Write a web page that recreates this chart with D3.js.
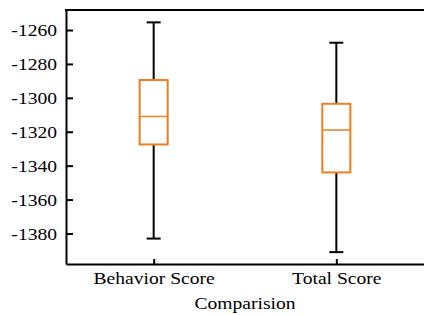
<!DOCTYPE html>
<html>
<head>
<meta charset="utf-8">
<script src="https://cdn.jsdelivr.net/npm/d3@7"></script>
<style>
  body { margin: 0; background: #fff; }
</style>
</head>
<body>
<script>
var categories = ["Behavior Score", "Total Score"];
var whiskerLow = [-1383, -1391];
var q1 = [-1327.5, -1344];
var median = [-1311, -1319];
var q3 = [-1289.5, -1303.5];
var whiskerHigh = [-1255.5, -1267.5];
var yTicks = [-1380, -1360, -1340, -1320, -1300, -1280, -1260];

var W = 424, H = 315;
var margin = {top: 10, right: 0, bottom: 51, left: 66};
var FONT = "'Liberation Serif'";
var fs = 17.5, sx = 1.12;

var svg = d3.select("body").append("svg")
    .attr("width", W)
    .attr("height", H);

var x = d3.scalePoint()
    .domain(categories)
    .range([margin.left, W - margin.right])
    .padding(0.48);

var y = d3.scaleLinear()
    .domain([-1398, -1248.2])
    .range([H - margin.bottom, margin.top]);

var orange = "#ef7e1f";
var boxW = 28, capW = 14;

var data = categories.map(function(c, i) {
  return {c: c, lo: whiskerLow[i], q1: q1[i], med: median[i], q3: q3[i], hi: whiskerHigh[i]};
});

var g = svg.append("g");

// whiskers
g.selectAll(".whisk").data(data).enter().append("line")
    .attr("x1", function(d) { return x(d.c); })
    .attr("x2", function(d) { return x(d.c); })
    .attr("y1", function(d) { return y(d.lo); })
    .attr("y2", function(d) { return y(d.hi); })
    .attr("stroke", "#000").attr("stroke-width", 2);

["lo", "hi"].forEach(function(k) {
  g.selectAll(".cap-" + k).data(data).enter().append("line")
      .attr("x1", function(d) { return x(d.c) - capW / 2; })
      .attr("x2", function(d) { return x(d.c) + capW / 2; })
      .attr("y1", function(d) { return y(d[k]); })
      .attr("y2", function(d) { return y(d[k]); })
      .attr("stroke", "#000").attr("stroke-width", 2);
});

g.selectAll(".box").data(data).enter().append("rect")
    .attr("x", function(d) { return x(d.c) - boxW / 2; })
    .attr("y", function(d) { return y(d.q3); })
    .attr("width", boxW)
    .attr("height", function(d) { return y(d.q1) - y(d.q3); })
    .attr("fill", "#fff")
    .attr("stroke", orange).attr("stroke-width", 2);

g.selectAll(".med").data(data).enter().append("line")
    .attr("x1", function(d) { return x(d.c) - boxW / 2; })
    .attr("x2", function(d) { return x(d.c) + boxW / 2; })
    .attr("y1", function(d) { return y(d.med); })
    .attr("y2", function(d) { return y(d.med); })
    .attr("stroke", orange).attr("stroke-width", 1.5);

// axes
var yAxis = svg.append("g")
    .attr("transform", "translate(" + margin.left + ",0)")
    .call(d3.axisLeft(y).tickValues(yTicks).tickFormat(function(d) { return String(d); })
      .tickSizeInner(-7).tickSizeOuter(0).tickPadding(8));

var xAxis = svg.append("g")
    .attr("transform", "translate(0," + (H - margin.bottom) + ")")
    .call(d3.axisBottom(x).tickSizeInner(-5).tickSizeOuter(0).tickPadding(7.5));

[yAxis, xAxis].forEach(function(a) {
  a.select(".domain").attr("stroke-width", 2).attr("stroke", "#000");
  a.selectAll(".tick line").attr("stroke-width", 2).attr("stroke", "#000");
  a.selectAll(".tick text")
      .style("font-family", FONT).style("font-size", fs + "px")
      .attr("fill", "#000").attr("transform", "scale(" + sx + ",1)");
});

// top frame line
svg.append("line")
    .attr("x1", margin.left - 1).attr("x2", W)
    .attr("y1", margin.top).attr("y2", margin.top)
    .attr("stroke", "#000").attr("stroke-width", 2);

svg.append("text")
    .attr("transform", "translate(" + ((margin.left + W) / 2) + ",309) scale(" + sx + ",1)")
    .attr("text-anchor", "middle")
    .style("font-family", FONT).style("font-size", fs + "px")
    .text("Comparision");
</script>
</body>
</html>
